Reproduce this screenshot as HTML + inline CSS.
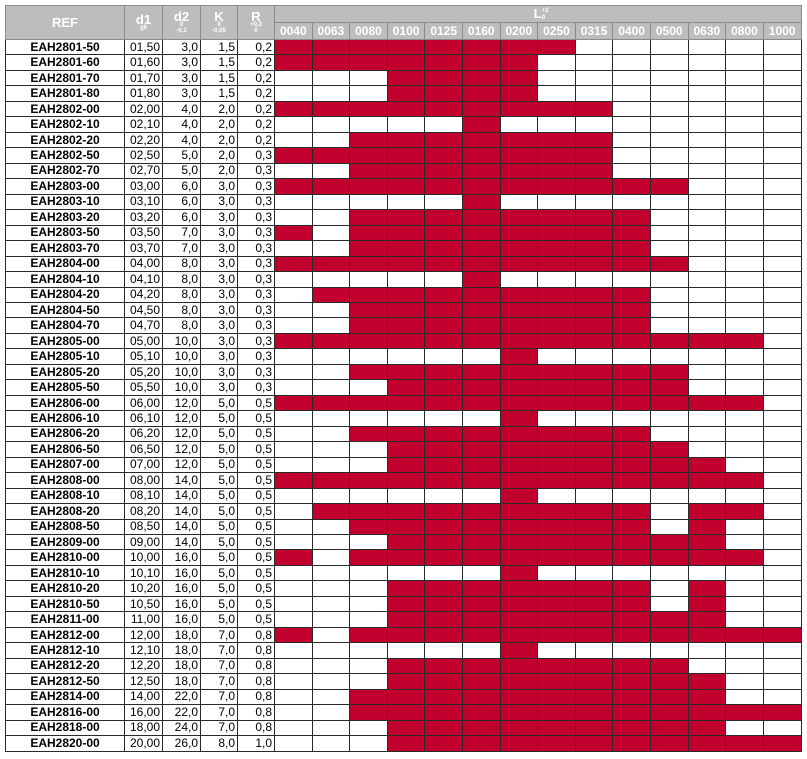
<!DOCTYPE html>
<html><head><meta charset="utf-8"><style>
body{margin:0;background:#fff;width:807px;height:759px;overflow:hidden}
table{position:absolute;left:5px;top:5px;border-collapse:collapse;table-layout:fixed;width:796px;font-family:"Liberation Sans Narrow","Liberation Sans",sans-serif;font-size:12px;color:#000}
td,th{border:1px solid #2a2a2a;padding:0;overflow:hidden;white-space:nowrap;line-height:13px}
tbody tr{height:15.47px}
th{background:#bdbdbd;color:#fff;font-weight:bold;border-color:#8a8a8a;line-height:11px;font-size:12px}
thead tr{height:17px}
td.n{text-align:center;font-weight:bold}
td.v{text-align:right;padding-right:2px}
td.r{background:#c1002d}
.s{font-size:6px;display:block;line-height:6px}
th.h{font-size:13px}
.L{position:relative;height:16px;line-height:16px;overflow:hidden}
.L b{position:absolute;font-size:6px;line-height:6px;left:50%;margin-left:4px}
</style></head><body>
<table>
<colgroup><col style="width:119px"><col style="width:38px"><col style="width:38px"><col style="width:37px"><col style="width:37px"><col span="14" style="width:37.6px"></colgroup>
<thead>
<tr><th rowspan="2" class="h">REF</th><th rowspan="2" class="h">d1<span class="s">g6</span></th><th rowspan="2" class="h">d2<span class="s">0<br>-0,2</span></th><th rowspan="2" class="h">K<span class="s">0<br>-0,05</span></th><th rowspan="2" class="h">R<span class="s">+0,2<br>0</span></th><th colspan="14" class="h"><div class="L">L<b style="top:2px">+2</b><b style="top:9px">0</b></div></th></tr>
<tr><th>0040</th><th>0063</th><th>0080</th><th>0100</th><th>0125</th><th>0160</th><th>0200</th><th>0250</th><th>0315</th><th>0400</th><th>0500</th><th>0630</th><th>0800</th><th>1000</th></tr>
</thead>
<tbody>
<tr><td class=n>EAH2801-50</td><td class=v>01,50</td><td class=v>3,0</td><td class=v>1,5</td><td class=v>0,2</td><td class=r></td><td class=r></td><td class=r></td><td class=r></td><td class=r></td><td class=r></td><td class=r></td><td class=r></td><td></td><td></td><td></td><td></td><td></td><td></td></tr>
<tr><td class=n>EAH2801-60</td><td class=v>01,60</td><td class=v>3,0</td><td class=v>1,5</td><td class=v>0,2</td><td class=r></td><td class=r></td><td class=r></td><td class=r></td><td class=r></td><td class=r></td><td class=r></td><td></td><td></td><td></td><td></td><td></td><td></td><td></td></tr>
<tr><td class=n>EAH2801-70</td><td class=v>01,70</td><td class=v>3,0</td><td class=v>1,5</td><td class=v>0,2</td><td></td><td></td><td></td><td class=r></td><td class=r></td><td class=r></td><td class=r></td><td></td><td></td><td></td><td></td><td></td><td></td><td></td></tr>
<tr><td class=n>EAH2801-80</td><td class=v>01,80</td><td class=v>3,0</td><td class=v>1,5</td><td class=v>0,2</td><td></td><td></td><td></td><td class=r></td><td class=r></td><td class=r></td><td class=r></td><td></td><td></td><td></td><td></td><td></td><td></td><td></td></tr>
<tr><td class=n>EAH2802-00</td><td class=v>02,00</td><td class=v>4,0</td><td class=v>2,0</td><td class=v>0,2</td><td class=r></td><td class=r></td><td class=r></td><td class=r></td><td class=r></td><td class=r></td><td class=r></td><td class=r></td><td class=r></td><td></td><td></td><td></td><td></td><td></td></tr>
<tr><td class=n>EAH2802-10</td><td class=v>02,10</td><td class=v>4,0</td><td class=v>2,0</td><td class=v>0,2</td><td></td><td></td><td></td><td></td><td></td><td class=r></td><td></td><td></td><td></td><td></td><td></td><td></td><td></td><td></td></tr>
<tr><td class=n>EAH2802-20</td><td class=v>02,20</td><td class=v>4,0</td><td class=v>2,0</td><td class=v>0,2</td><td></td><td></td><td class=r></td><td class=r></td><td class=r></td><td class=r></td><td class=r></td><td class=r></td><td class=r></td><td></td><td></td><td></td><td></td><td></td></tr>
<tr><td class=n>EAH2802-50</td><td class=v>02,50</td><td class=v>5,0</td><td class=v>2,0</td><td class=v>0,3</td><td class=r></td><td class=r></td><td class=r></td><td class=r></td><td class=r></td><td class=r></td><td class=r></td><td class=r></td><td class=r></td><td></td><td></td><td></td><td></td><td></td></tr>
<tr><td class=n>EAH2802-70</td><td class=v>02,70</td><td class=v>5,0</td><td class=v>2,0</td><td class=v>0,3</td><td></td><td></td><td class=r></td><td class=r></td><td class=r></td><td class=r></td><td class=r></td><td class=r></td><td class=r></td><td></td><td></td><td></td><td></td><td></td></tr>
<tr><td class=n>EAH2803-00</td><td class=v>03,00</td><td class=v>6,0</td><td class=v>3,0</td><td class=v>0,3</td><td class=r></td><td class=r></td><td class=r></td><td class=r></td><td class=r></td><td class=r></td><td class=r></td><td class=r></td><td class=r></td><td class=r></td><td class=r></td><td></td><td></td><td></td></tr>
<tr><td class=n>EAH2803-10</td><td class=v>03,10</td><td class=v>6,0</td><td class=v>3,0</td><td class=v>0,3</td><td></td><td></td><td></td><td></td><td></td><td class=r></td><td></td><td></td><td></td><td></td><td></td><td></td><td></td><td></td></tr>
<tr><td class=n>EAH2803-20</td><td class=v>03,20</td><td class=v>6,0</td><td class=v>3,0</td><td class=v>0,3</td><td></td><td></td><td class=r></td><td class=r></td><td class=r></td><td class=r></td><td class=r></td><td class=r></td><td class=r></td><td class=r></td><td></td><td></td><td></td><td></td></tr>
<tr><td class=n>EAH2803-50</td><td class=v>03,50</td><td class=v>7,0</td><td class=v>3,0</td><td class=v>0,3</td><td class=r></td><td></td><td class=r></td><td class=r></td><td class=r></td><td class=r></td><td class=r></td><td class=r></td><td class=r></td><td class=r></td><td></td><td></td><td></td><td></td></tr>
<tr><td class=n>EAH2803-70</td><td class=v>03,70</td><td class=v>7,0</td><td class=v>3,0</td><td class=v>0,3</td><td></td><td></td><td class=r></td><td class=r></td><td class=r></td><td class=r></td><td class=r></td><td class=r></td><td class=r></td><td class=r></td><td></td><td></td><td></td><td></td></tr>
<tr><td class=n>EAH2804-00</td><td class=v>04,00</td><td class=v>8,0</td><td class=v>3,0</td><td class=v>0,3</td><td class=r></td><td class=r></td><td class=r></td><td class=r></td><td class=r></td><td class=r></td><td class=r></td><td class=r></td><td class=r></td><td class=r></td><td class=r></td><td></td><td></td><td></td></tr>
<tr><td class=n>EAH2804-10</td><td class=v>04,10</td><td class=v>8,0</td><td class=v>3,0</td><td class=v>0,3</td><td></td><td></td><td></td><td></td><td></td><td class=r></td><td></td><td></td><td></td><td></td><td></td><td></td><td></td><td></td></tr>
<tr><td class=n>EAH2804-20</td><td class=v>04,20</td><td class=v>8,0</td><td class=v>3,0</td><td class=v>0,3</td><td></td><td class=r></td><td class=r></td><td class=r></td><td class=r></td><td class=r></td><td class=r></td><td class=r></td><td class=r></td><td class=r></td><td></td><td></td><td></td><td></td></tr>
<tr><td class=n>EAH2804-50</td><td class=v>04,50</td><td class=v>8,0</td><td class=v>3,0</td><td class=v>0,3</td><td></td><td></td><td class=r></td><td class=r></td><td class=r></td><td class=r></td><td class=r></td><td class=r></td><td class=r></td><td class=r></td><td></td><td></td><td></td><td></td></tr>
<tr><td class=n>EAH2804-70</td><td class=v>04,70</td><td class=v>8,0</td><td class=v>3,0</td><td class=v>0,3</td><td></td><td></td><td class=r></td><td class=r></td><td class=r></td><td class=r></td><td class=r></td><td class=r></td><td class=r></td><td class=r></td><td></td><td></td><td></td><td></td></tr>
<tr><td class=n>EAH2805-00</td><td class=v>05,00</td><td class=v>10,0</td><td class=v>3,0</td><td class=v>0,3</td><td class=r></td><td class=r></td><td class=r></td><td class=r></td><td class=r></td><td class=r></td><td class=r></td><td class=r></td><td class=r></td><td class=r></td><td class=r></td><td class=r></td><td class=r></td><td></td></tr>
<tr><td class=n>EAH2805-10</td><td class=v>05,10</td><td class=v>10,0</td><td class=v>3,0</td><td class=v>0,3</td><td></td><td></td><td></td><td></td><td></td><td></td><td class=r></td><td></td><td></td><td></td><td></td><td></td><td></td><td></td></tr>
<tr><td class=n>EAH2805-20</td><td class=v>05,20</td><td class=v>10,0</td><td class=v>3,0</td><td class=v>0,3</td><td></td><td></td><td class=r></td><td class=r></td><td class=r></td><td class=r></td><td class=r></td><td class=r></td><td class=r></td><td class=r></td><td class=r></td><td></td><td></td><td></td></tr>
<tr><td class=n>EAH2805-50</td><td class=v>05,50</td><td class=v>10,0</td><td class=v>3,0</td><td class=v>0,3</td><td></td><td></td><td></td><td class=r></td><td class=r></td><td class=r></td><td class=r></td><td class=r></td><td class=r></td><td class=r></td><td class=r></td><td></td><td></td><td></td></tr>
<tr><td class=n>EAH2806-00</td><td class=v>06,00</td><td class=v>12,0</td><td class=v>5,0</td><td class=v>0,5</td><td class=r></td><td class=r></td><td class=r></td><td class=r></td><td class=r></td><td class=r></td><td class=r></td><td class=r></td><td class=r></td><td class=r></td><td class=r></td><td class=r></td><td class=r></td><td></td></tr>
<tr><td class=n>EAH2806-10</td><td class=v>06,10</td><td class=v>12,0</td><td class=v>5,0</td><td class=v>0,5</td><td></td><td></td><td></td><td></td><td></td><td></td><td class=r></td><td></td><td></td><td></td><td></td><td></td><td></td><td></td></tr>
<tr><td class=n>EAH2806-20</td><td class=v>06,20</td><td class=v>12,0</td><td class=v>5,0</td><td class=v>0,5</td><td></td><td></td><td class=r></td><td class=r></td><td class=r></td><td class=r></td><td class=r></td><td class=r></td><td class=r></td><td class=r></td><td></td><td></td><td></td><td></td></tr>
<tr><td class=n>EAH2806-50</td><td class=v>06,50</td><td class=v>12,0</td><td class=v>5,0</td><td class=v>0,5</td><td></td><td></td><td></td><td class=r></td><td class=r></td><td class=r></td><td class=r></td><td class=r></td><td class=r></td><td class=r></td><td class=r></td><td></td><td></td><td></td></tr>
<tr><td class=n>EAH2807-00</td><td class=v>07,00</td><td class=v>12,0</td><td class=v>5,0</td><td class=v>0,5</td><td></td><td></td><td></td><td class=r></td><td class=r></td><td class=r></td><td class=r></td><td class=r></td><td class=r></td><td class=r></td><td class=r></td><td class=r></td><td></td><td></td></tr>
<tr><td class=n>EAH2808-00</td><td class=v>08,00</td><td class=v>14,0</td><td class=v>5,0</td><td class=v>0,5</td><td class=r></td><td class=r></td><td class=r></td><td class=r></td><td class=r></td><td class=r></td><td class=r></td><td class=r></td><td class=r></td><td class=r></td><td class=r></td><td class=r></td><td class=r></td><td></td></tr>
<tr><td class=n>EAH2808-10</td><td class=v>08,10</td><td class=v>14,0</td><td class=v>5,0</td><td class=v>0,5</td><td></td><td></td><td></td><td></td><td></td><td></td><td class=r></td><td></td><td></td><td></td><td></td><td></td><td></td><td></td></tr>
<tr><td class=n>EAH2808-20</td><td class=v>08,20</td><td class=v>14,0</td><td class=v>5,0</td><td class=v>0,5</td><td></td><td class=r></td><td class=r></td><td class=r></td><td class=r></td><td class=r></td><td class=r></td><td class=r></td><td class=r></td><td class=r></td><td></td><td class=r></td><td class=r></td><td></td></tr>
<tr><td class=n>EAH2808-50</td><td class=v>08,50</td><td class=v>14,0</td><td class=v>5,0</td><td class=v>0,5</td><td></td><td></td><td class=r></td><td class=r></td><td class=r></td><td class=r></td><td class=r></td><td class=r></td><td class=r></td><td class=r></td><td></td><td class=r></td><td></td><td></td></tr>
<tr><td class=n>EAH2809-00</td><td class=v>09,00</td><td class=v>14,0</td><td class=v>5,0</td><td class=v>0,5</td><td></td><td></td><td></td><td class=r></td><td class=r></td><td class=r></td><td class=r></td><td class=r></td><td class=r></td><td class=r></td><td class=r></td><td class=r></td><td></td><td></td></tr>
<tr><td class=n>EAH2810-00</td><td class=v>10,00</td><td class=v>16,0</td><td class=v>5,0</td><td class=v>0,5</td><td class=r></td><td></td><td class=r></td><td class=r></td><td class=r></td><td class=r></td><td class=r></td><td class=r></td><td class=r></td><td class=r></td><td class=r></td><td class=r></td><td class=r></td><td></td></tr>
<tr><td class=n>EAH2810-10</td><td class=v>10,10</td><td class=v>16,0</td><td class=v>5,0</td><td class=v>0,5</td><td></td><td></td><td></td><td></td><td></td><td></td><td class=r></td><td></td><td></td><td></td><td></td><td></td><td></td><td></td></tr>
<tr><td class=n>EAH2810-20</td><td class=v>10,20</td><td class=v>16,0</td><td class=v>5,0</td><td class=v>0,5</td><td></td><td></td><td></td><td class=r></td><td class=r></td><td class=r></td><td class=r></td><td class=r></td><td class=r></td><td class=r></td><td></td><td class=r></td><td></td><td></td></tr>
<tr><td class=n>EAH2810-50</td><td class=v>10,50</td><td class=v>16,0</td><td class=v>5,0</td><td class=v>0,5</td><td></td><td></td><td></td><td class=r></td><td class=r></td><td class=r></td><td class=r></td><td class=r></td><td class=r></td><td class=r></td><td></td><td class=r></td><td></td><td></td></tr>
<tr><td class=n>EAH2811-00</td><td class=v>11,00</td><td class=v>16,0</td><td class=v>5,0</td><td class=v>0,5</td><td></td><td></td><td></td><td class=r></td><td class=r></td><td class=r></td><td class=r></td><td class=r></td><td class=r></td><td class=r></td><td class=r></td><td class=r></td><td></td><td></td></tr>
<tr><td class=n>EAH2812-00</td><td class=v>12,00</td><td class=v>18,0</td><td class=v>7,0</td><td class=v>0,8</td><td class=r></td><td></td><td class=r></td><td class=r></td><td class=r></td><td class=r></td><td class=r></td><td class=r></td><td class=r></td><td class=r></td><td class=r></td><td class=r></td><td class=r></td><td class=r></td></tr>
<tr><td class=n>EAH2812-10</td><td class=v>12,10</td><td class=v>18,0</td><td class=v>7,0</td><td class=v>0,8</td><td></td><td></td><td></td><td></td><td></td><td></td><td class=r></td><td></td><td></td><td></td><td></td><td></td><td></td><td></td></tr>
<tr><td class=n>EAH2812-20</td><td class=v>12,20</td><td class=v>18,0</td><td class=v>7,0</td><td class=v>0,8</td><td></td><td></td><td></td><td class=r></td><td class=r></td><td class=r></td><td class=r></td><td class=r></td><td class=r></td><td class=r></td><td class=r></td><td></td><td></td><td></td></tr>
<tr><td class=n>EAH2812-50</td><td class=v>12,50</td><td class=v>18,0</td><td class=v>7,0</td><td class=v>0,8</td><td></td><td></td><td></td><td class=r></td><td class=r></td><td class=r></td><td class=r></td><td class=r></td><td class=r></td><td class=r></td><td class=r></td><td class=r></td><td></td><td></td></tr>
<tr><td class=n>EAH2814-00</td><td class=v>14,00</td><td class=v>22,0</td><td class=v>7,0</td><td class=v>0,8</td><td></td><td></td><td class=r></td><td class=r></td><td class=r></td><td class=r></td><td class=r></td><td class=r></td><td class=r></td><td class=r></td><td class=r></td><td class=r></td><td></td><td></td></tr>
<tr><td class=n>EAH2816-00</td><td class=v>16,00</td><td class=v>22,0</td><td class=v>7,0</td><td class=v>0,8</td><td></td><td></td><td class=r></td><td class=r></td><td class=r></td><td class=r></td><td class=r></td><td class=r></td><td class=r></td><td class=r></td><td class=r></td><td class=r></td><td class=r></td><td class=r></td></tr>
<tr><td class=n>EAH2818-00</td><td class=v>18,00</td><td class=v>24,0</td><td class=v>7,0</td><td class=v>0,8</td><td></td><td></td><td></td><td class=r></td><td class=r></td><td class=r></td><td class=r></td><td class=r></td><td class=r></td><td class=r></td><td class=r></td><td class=r></td><td></td><td></td></tr>
<tr><td class=n>EAH2820-00</td><td class=v>20,00</td><td class=v>26,0</td><td class=v>8,0</td><td class=v>1,0</td><td></td><td></td><td></td><td class=r></td><td class=r></td><td class=r></td><td class=r></td><td class=r></td><td class=r></td><td class=r></td><td class=r></td><td class=r></td><td class=r></td><td class=r></td></tr>
</tbody></table>
</body></html>
